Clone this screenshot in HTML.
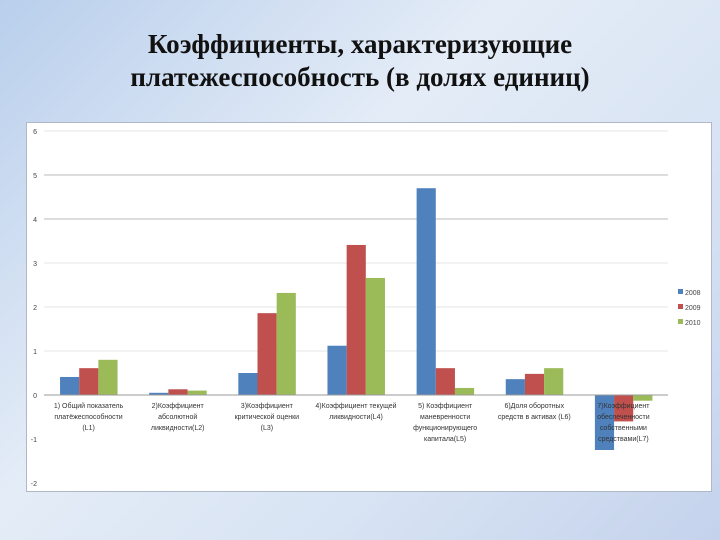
<!DOCTYPE html>
<html><head><meta charset="utf-8"><style>
body{margin:0;width:720px;height:540px;overflow:hidden;background:linear-gradient(135deg,#b9cfec 0%,#e4ecf7 40%,#d7e3f3 70%,#c4d2ec 100%);font-family:"Liberation Serif",serif;position:relative}
#title{position:absolute;left:0;top:28px;width:720px;text-align:center;font-size:27px;font-weight:bold;line-height:33px;color:#111}
#box{position:absolute;left:26px;top:122px;width:684px;height:368px;background:#fff;border:1px solid #b0b8c8}
</style></head><body>
<div id="title">Коэффициенты, характеризующие<br>платежеспособность (в долях единиц)</div>
<div id="box"></div>
<svg id="chart" width="720" height="540" style="position:absolute;left:0;top:0" font-family="Liberation Sans, sans-serif"></svg>
<script>
const categories=[["1) Общий показатель","платёжеспособности","(L1)"],["2)Коэффициент","абсолютной","ликвидности(L2)"],["3)Коэффициент","критической оценки","(L3)"],["4)Коэффициент текущей","ликвидности(L4)"],["5) Коэффициент","маневренности","функционирующего","капитала(L5)"],["6)Доля оборотных","средств в активах (L6)"],["7)Коэффициент","обеспеченности","собственными","средствами(L7)"]];
const series=["2008","2009","2010"];
const v2008=[0.41,0.05,0.5,1.12,4.7,0.36,-1.25];
const v2009=[0.61,0.13,1.86,3.41,0.61,0.48,-0.6];
const v2010=[0.8,0.1,2.32,2.66,0.16,0.61,-0.13];
const yTicks=[6,5,4,3,2,1,0,-1,-2];
const colors=["#4f81bd","#c0504d","#9bbb59"];
const svg=document.getElementById('chart');const NS="http://www.w3.org/2000/svg";
const x0=44,x1=668,y=v=>395-44*v;const gw=(x1-x0)/categories.length;
function mk(t,a,p){const e=document.createElementNS(NS,t);for(const k in a)e.setAttribute(k,a[k]);(p||svg).appendChild(e);return e;}
yTicks.forEach(t=>{
 if(t!==0&&t>-1){const g=mk('line',{x1:x0,x2:x1,y1:y(t),y2:y(t),stroke:(t==4||t==5)?'#bbb':'#e4e4e4','stroke-width':1});
 }
 const l=mk('text',{x:37,y:y(t)+3,'font-size':7,fill:'#444','text-anchor':'end'});l.textContent=t;
 
});
[v2008,v2009,v2010].forEach((arr,s)=>arr.forEach((v,i)=>{
 const bx=x0+gw*i+gw*0.18+s*gw*0.215;
 const r=mk('rect',{x:bx,y:Math.min(y(v),y(0)),width:gw*0.215,height:Math.abs(y(v)-y(0)),fill:colors[s]});
 
}));
const ax=mk('line',{x1:x0,x2:x1,y1:y(0),y2:y(0),stroke:'#999'});

categories.forEach((c,i)=>{
 const t=mk('text',{x:x0+gw*(i+0.5),y:y(0)+13,'font-size':7,fill:'#333','text-anchor':'middle'});
 
 c.forEach((ln,j)=>{const s=mk('tspan',{x:x0+gw*(i+0.5),dy:j?11:0},t);s.textContent=ln;});
});
series.forEach((s,i)=>{
 const g=mk('g',{});
 mk('rect',{x:678,y:289+i*15,width:5,height:5,fill:colors[i]},g);
 const t=mk('text',{x:685,y:295+i*15,'font-size':7,fill:'#444'},g);t.textContent=s;
});
</script>
</body></html>
